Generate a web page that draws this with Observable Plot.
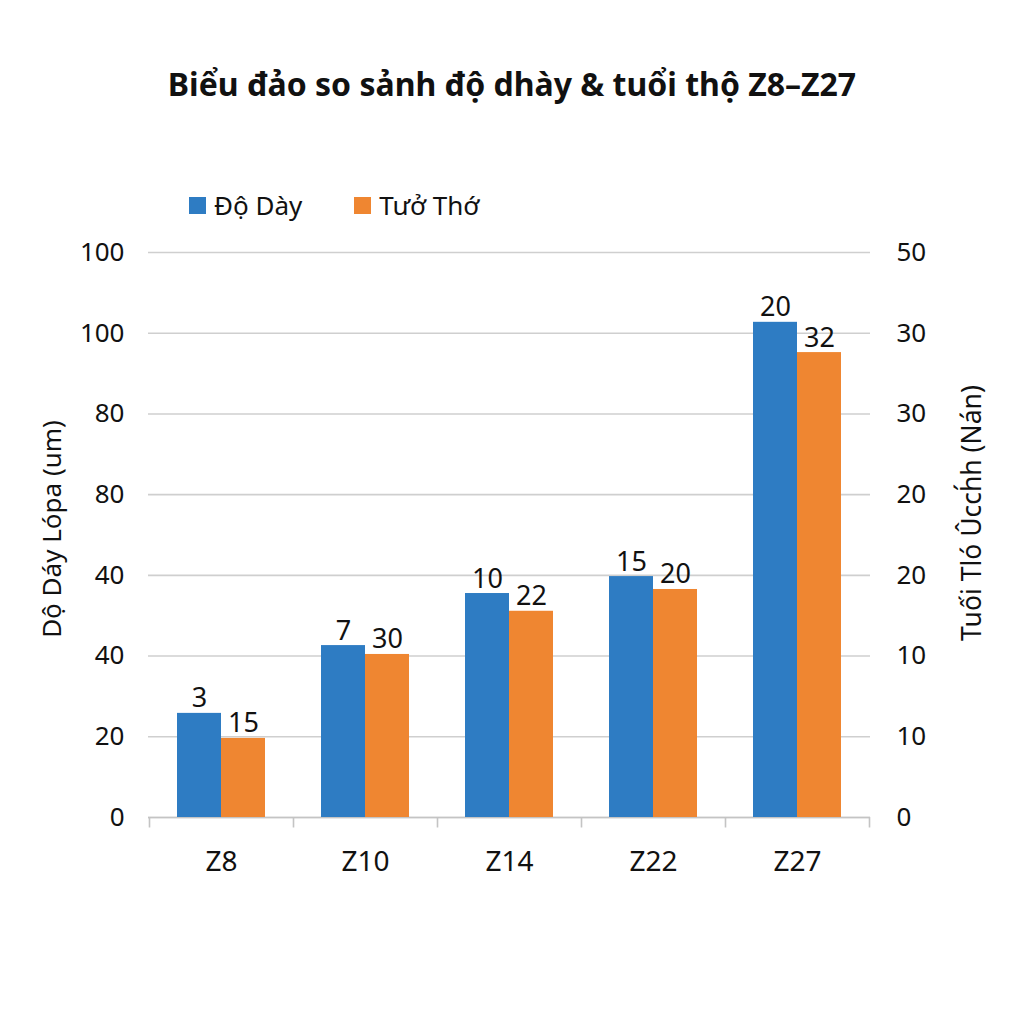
<!DOCTYPE html>
<html>
<head>
<meta charset="utf-8">
<script src="https://cdn.jsdelivr.net/npm/d3@7"></script>
<script src="https://cdn.jsdelivr.net/npm/@observablehq/plot@0.6"></script>
<style>
  html, body { margin: 0; padding: 0; background: #ffffff; }
  body { width: 1024px; height: 1024px; position: relative; font-family: "Noto Sans", "Open Sans", sans-serif; color: #111; }
  #title { position: absolute; top: 60px; left: 0; width: 1024px; text-align: center; font-weight: 700; font-size: 32px; line-height: 48px; }
  #legend { position: absolute; top: 187px; left: 189px; display: flex; align-items: center; font-size: 26px; line-height: 36px; }
  .item { display: flex; align-items: center; margin-right: 52px; }
  .sw { width: 17px; height: 17px; margin-right: 8px; }
  #chart { position: absolute; top: 230px; left: 0; }
</style>
</head>
<body>
<div id="title"></div>
<div id="legend"></div>
<div id="chart"></div>
<script>
const titleText = "Biểu đảo so sảnh độ dhày & tuổi thộ Z8–Z27";
const categories = ["Z8", "Z10", "Z14", "Z22", "Z27"];
const seriesNames = ["Độ Dày", "Tưở Thớ"];
const seriesColors = ["#2e7cc3", "#ef8631"];
// bar heights, in left-axis grid units (20 per gridline)
const thicknessHeights = [25.8, 42.6, 55.5, 59.7, 122.7];
const lifeHeights = [19.6, 40.4, 51.1, 56.5, 115.2];
// printed value labels
const thicknessLabels = ["3", "7", "10", "15", "20"];
const lifeLabels = ["15", "30", "22", "20", "32"];
// tick positions and printed tick labels
const tickValues = [0, 20, 40, 60, 80, 100, 120, 140];
const leftTickLabels = ["0", "20", "40", "40", "80", "80", "100", "100"];
const rightTickLabels = ["0", "10", "10", "20", "20", "30", "30", "50"];
const leftAxisTitle = "Dộ Dáy Lópa (um)";
const rightAxisTitle = "Tuối Tló Ûcch́h (Nán)";

document.getElementById("title").textContent = titleText;
const legend = document.getElementById("legend");
seriesNames.forEach((n, i) => {
  const it = document.createElement("div");
  it.className = "item";
  const sw = document.createElement("div");
  sw.className = "sw";
  sw.style.background = seriesColors[i];
  const t = document.createElement("span");
  t.textContent = n;
  it.appendChild(sw); it.appendChild(t);
  legend.appendChild(it);
});

const blue = categories.map((c, i) => ({cat: c, v: thicknessHeights[i], label: thicknessLabels[i]}));
const orange = categories.map((c, i) => ({cat: c, v: lifeHeights[i], label: lifeLabels[i]}));
const half = 44;

const plot = Plot.plot({
  width: 1024,
  height: 700,
  marginTop: 22,
  marginBottom: 113,
  marginLeft: 148,
  marginRight: 154,
  style: {fontFamily: "'Noto Sans', 'Open Sans', sans-serif", color: "#111", background: "transparent"},
  x: {domain: categories, paddingInner: 0.389, paddingOuter: 0.1945, label: null},
  y: {domain: [0, 140], label: null},
  marks: [
    Plot.gridY(tickValues, {stroke: "#cfcfcf", strokeOpacity: 1, strokeWidth: 1.6}),
    Plot.ruleY([0], {stroke: "#c4c4c4", strokeWidth: 1.6}),
    // category boundary ticks below the baseline
    Plot.ruleX(categories, {x: d => d, dx: -72, y1: 0, y2: -2.6, stroke: "#c4c4c4", strokeWidth: 1.6, clip: false}),
    Plot.ruleX(categories.slice(-1), {x: d => d, dx: 72, y1: 0, y2: -2.6, stroke: "#c4c4c4", strokeWidth: 1.6, clip: false}),
    Plot.barY(blue, {x: "cat", y: "v", fill: seriesColors[0], insetRight: half}),
    Plot.barY(orange, {x: "cat", y: "v", fill: seriesColors[1], insetLeft: half}),
    Plot.text(blue, {x: "cat", y: "v", text: "label", dx: -half / 2, dy: -6, lineAnchor: "bottom", fontSize: 27, fill: "#111"}),
    Plot.text(orange, {x: "cat", y: "v", text: "label", dx: half / 2, dy: -6, lineAnchor: "bottom", fontSize: 27, fill: "#111"}),
    Plot.axisY({anchor: "left", ticks: tickValues, tickFormat: d => leftTickLabels[Math.round(d / 20)], tickSize: 0, tickPadding: 24, fontSize: 26, label: null}),
    Plot.axisY({anchor: "right", ticks: tickValues, tickFormat: d => rightTickLabels[Math.round(d / 20)], tickSize: 0, tickPadding: 26, fontSize: 26, label: null}),
    Plot.axisX({tickSize: 0, tickPadding: 34, fontSize: 28, label: null}),
    Plot.text([leftAxisTitle], {text: d => d, frameAnchor: "left", textAnchor: "middle", rotate: -90, dx: -96, dy: -6, fontSize: 26, fill: "#111"}),
    Plot.text([rightAxisTitle], {text: d => d, frameAnchor: "right", textAnchor: "middle", rotate: -90, dx: 102, dy: -22, fontSize: 26.5, fill: "#111"})
  ]
});
document.getElementById("chart").appendChild(plot);
</script>
</body>
</html>
